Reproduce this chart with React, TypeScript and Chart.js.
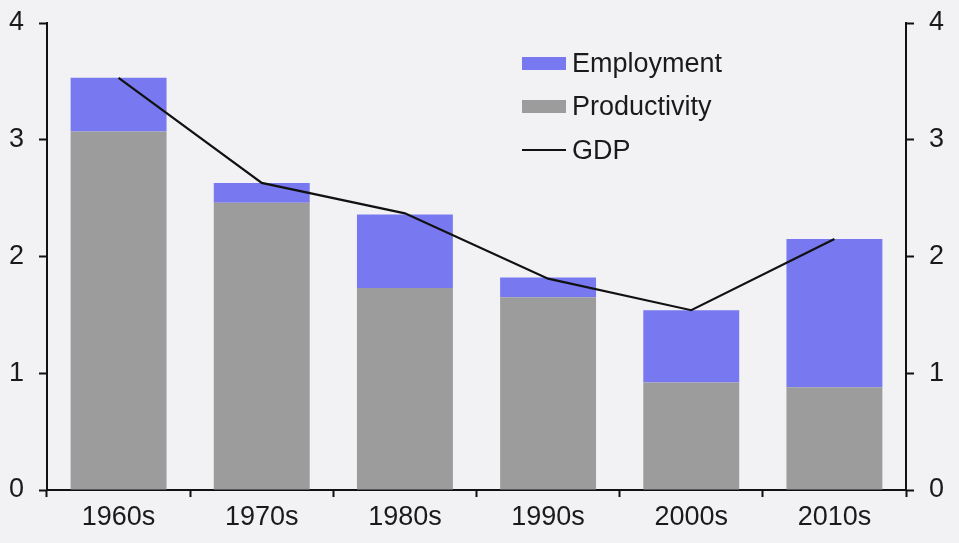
import React, { useEffect, useRef } from "react";
import { Chart, registerables } from "chart.js";

Chart.register(...registerables);

const categories = ["1960s", "1970s", "1980s", "1990s", "2000s", "2010s"];
const productivity = [3.07, 2.46, 1.73, 1.65, 0.92, 0.88];
const employment = [0.46, 0.17, 0.63, 0.17, 0.62, 1.27];
const gdp = [3.53, 2.63, 2.37, 1.81, 1.54, 2.15];
const yTicks = [0, 1, 2, 3, 4];

const BG = "#f2f2f5";
const BLUE = "#7878f0";
const GRAY = "#9c9c9c";
const FONT = "'Liberation Sans', Arial, sans-serif";

export default function App() {
  const ref = useRef<HTMLCanvasElement | null>(null);

  useEffect(() => {
    if (!ref.current) return;
    const tickFont = { family: FONT, size: 27 };
    const fitY = (w: number) => (s: any) => {
      s.width = w;
      s.paddingTop = 0;
      s.paddingBottom = 0;
    };
    const chart = new Chart(ref.current, {
      type: "bar",
      data: {
        labels: categories,
        datasets: [
          {
            type: "line",
            label: "GDP",
            data: gdp,
            borderColor: "#111",
            borderWidth: 2.2,
            pointRadius: 0,
            tension: 0,
            yAxisID: "y1",
            order: 0,
          } as any,
          {
            label: "Productivity",
            data: productivity,
            backgroundColor: GRAY,
            yAxisID: "y",
            stack: "s",
            order: 1,
            barPercentage: 0.67,
            categoryPercentage: 1,
          },
          {
            label: "Employment",
            data: employment,
            backgroundColor: BLUE,
            yAxisID: "y",
            stack: "s",
            order: 1,
            barPercentage: 0.67,
            categoryPercentage: 1,
          },
        ],
      },
      options: {
        animation: false,
        responsive: false,
        maintainAspectRatio: false,
        layout: { padding: { top: 23, left: 0, right: 0, bottom: 0 } },
        plugins: { legend: { display: false }, tooltip: { enabled: false } },
        scales: {
          x: {
            stacked: true,
            offset: true,
            grid: {
              display: true,
              drawOnChartArea: false,
              drawTicks: true,
              tickLength: 7,
              tickWidth: 2,
              tickColor: "#111",
              offset: true,
            },
            border: { display: true, color: "#111", width: 2 },
            ticks: { font: tickFont, color: "#1a1a1a", padding: 4, maxRotation: 0 },
            afterFit: (s: any) => {
              s.height = 53;
              s.paddingLeft = 0;
              s.paddingRight = 0;
            },
          },
          y: {
            position: "left",
            stacked: true,
            min: 0,
            max: 4,
            afterBuildTicks: (s: any) => {
              s.ticks = yTicks.map((v) => ({ value: v }));
            },
            grid: {
              display: true,
              drawOnChartArea: false,
              drawTicks: true,
              tickLength: 8,
              tickWidth: 2,
              tickColor: "#111",
            },
            border: { display: true, color: "#111", width: 2 },
            ticks: { font: tickFont, color: "#1a1a1a", padding: 15 },
            afterFit: fitY(47),
          },
          y1: {
            position: "right",
            min: 0,
            max: 4,
            afterBuildTicks: (s: any) => {
              s.ticks = yTicks.map((v) => ({ value: v }));
            },
            grid: {
              display: true,
              drawOnChartArea: false,
              drawTicks: true,
              tickLength: 8,
              tickWidth: 2,
              tickColor: "#111",
            },
            border: { display: true, color: "#111", width: 2 },
            ticks: { font: tickFont, color: "#1a1a1a", padding: 15 },
            afterFit: fitY(53),
          },
        },
      },
    });
    return () => chart.destroy();
  }, []);

  const legendItems = [
    { label: "Employment", color: BLUE, kind: "box" },
    { label: "Productivity", color: GRAY, kind: "box" },
    { label: "GDP", color: "#111", kind: "line" },
  ];
  const rowCenters = [63, 106, 150];

  return (
    <div
      style={{
        position: "fixed",
        left: 0,
        top: 0,
        width: 959,
        height: 543,
        background: BG,
        overflow: "hidden",
      }}
    >
      <canvas ref={ref} width={959} height={543} style={{ width: 959, height: 543, display: "block" }} />
      {legendItems.map((it, i) => (
        <div
          key={it.label}
          style={{
            position: "absolute",
            left: 522,
            top: rowCenters[i] - 16,
            height: 32,
            display: "flex",
            alignItems: "center",
            fontFamily: FONT,
            fontSize: 27,
            color: "#1a1a1a",
            whiteSpace: "nowrap",
          }}
        >
          <div
            style={{
              width: 44,
              height: it.kind === "box" ? 13 : 2,
              background: it.color,
              marginRight: 6,
            }}
          />
          <span>{it.label}</span>
        </div>
      ))}
    </div>
  );
}
